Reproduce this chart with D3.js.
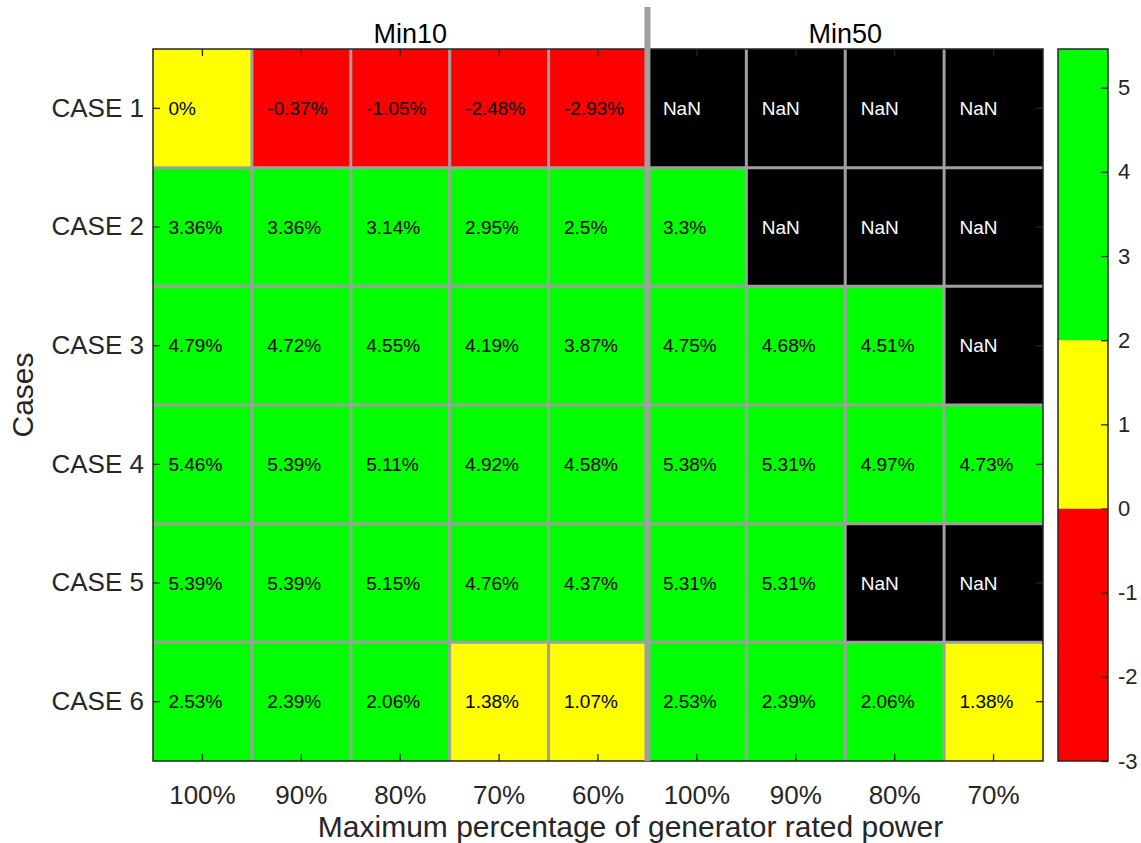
<!DOCTYPE html>
<html>
<head>
<meta charset="utf-8">
<script src="https://cdn.jsdelivr.net/npm/d3@7/dist/d3.min.js"></script>
<style>
  html, body { margin: 0; padding: 0; background: #fff; }
  svg { display: block; font-family: "Liberation Sans", Arial, Helvetica, sans-serif; }
</style>
</head>
<body>
<svg id="chart" width="1141" height="843"></svg>
<script>
// Cases (rows) and generator power limits (columns) for the two groups
const cases = ["CASE 1", "CASE 2", "CASE 3", "CASE 4", "CASE 5", "CASE 6"];
const groups = ["Min10", "Min10", "Min10", "Min10", "Min10", "Min50", "Min50", "Min50", "Min50"];
const columnLabels = ["100%", "90%", "80%", "70%", "60%", "100%", "90%", "80%", "70%"];
const groupNames = ["Min10", "Min50"];

// Improvement per case (%), NaN where no feasible result exists
const case1 = [0, -0.37, -1.05, -2.48, -2.93, NaN, NaN, NaN, NaN];
const case2 = [3.36, 3.36, 3.14, 2.95, 2.5, 3.3, NaN, NaN, NaN];
const case3 = [4.79, 4.72, 4.55, 4.19, 3.87, 4.75, 4.68, 4.51, NaN];
const case4 = [5.46, 5.39, 5.11, 4.92, 4.58, 5.38, 5.31, 4.97, 4.73];
const case5 = [5.39, 5.39, 5.15, 4.76, 4.37, 5.31, 5.31, NaN, NaN];
const case6 = [2.53, 2.39, 2.06, 1.38, 1.07, 2.53, 2.39, 2.06, 1.38];
const values = [case1, case2, case3, case4, case5, case6];

// Colour bands and colorbar ticks
const bandBreaks = [0, 2];
const bandColors = ["#ff0000", "#ffff00", "#00ff00"];
const colorTicks = [-3, -2, -1, 0, 1, 2, 3, 4, 5];
const colorMin = -3;
const colorMax = 5.46;

const svg = d3.select("#chart");
const plot = { left: 153, right: 1043, top: 49, bottom: 761 };
const axisColor = "#262626";
const gridColor = "#a0a0a0";

const cols = d3.range(columnLabels.length);
const x = d3.scaleBand().domain(cols).range([plot.left, plot.right]).padding(0);
const y = d3.scaleBand().domain(cases).range([plot.top, plot.bottom]).padding(0);
const color = d3.scaleThreshold().domain(bandBreaks).range(bandColors);

const cells = [];
values.forEach((row, r) => row.forEach((v, c) => cells.push({ r, c, v })));

const fmt = v => (isNaN(v) ? "NaN" : (+v.toFixed(2)).toString() + "%");

// Heatmap cells
svg.append("g").selectAll("rect").data(cells).join("rect")
  .attr("x", d => x(d.c))
  .attr("y", d => y(cases[d.r]))
  .attr("width", x.bandwidth())
  .attr("height", y.bandwidth())
  .attr("fill", d => (isNaN(d.v) ? "#000000" : color(d.v)));

// Internal grid lines between cells
const grid = svg.append("g").attr("stroke", gridColor).attr("stroke-width", 3);
cols.slice(1).forEach(c => {
  grid.append("line").attr("x1", x(c)).attr("x2", x(c))
    .attr("y1", plot.top).attr("y2", plot.bottom);
});
cases.slice(1).forEach(cs => {
  grid.append("line").attr("x1", plot.left).attr("x2", plot.right)
    .attr("y1", y(cs)).attr("y2", y(cs));
});

// Cell value labels
svg.append("g").selectAll("text").data(cells).join("text")
  .attr("x", d => x(d.c) + x.bandwidth() / 2 - 34)
  .attr("y", d => y(cases[d.r]) + y.bandwidth() / 2)
  .attr("dy", "0.35em")
  .attr("font-size", "19px")
  .attr("fill", d => (isNaN(d.v) ? "#ffffff" : "#000000"))
  .text(d => fmt(d.v));

// Axes (ticks pointing inward on all four sides)
const tickLen = 7;
const bottomAxis = d3.axisBottom(x).tickSize(0).tickPadding(0).tickFormat(i => columnLabels[i]);
const gx = svg.append("g").attr("transform", `translate(0,${plot.bottom})`).call(bottomAxis);
gx.select(".domain").remove();
gx.selectAll("text").attr("font-size", "26px").attr("fill", axisColor).attr("dy", null).attr("y", 43);

const leftAxis = d3.axisLeft(y).tickSize(0).tickPadding(9);
const gy = svg.append("g").attr("transform", `translate(${plot.left},0)`).call(leftAxis);
gy.select(".domain").remove();
gy.selectAll("text").attr("font-size", "26px").attr("fill", axisColor);

const ticks = svg.append("g").attr("stroke", axisColor).attr("stroke-width", 1.3);
cols.forEach(c => {
  const cx = x(c) + x.bandwidth() / 2;
  ticks.append("line").attr("x1", cx).attr("x2", cx).attr("y1", plot.bottom).attr("y2", plot.bottom - tickLen);
  ticks.append("line").attr("x1", cx).attr("x2", cx).attr("y1", plot.top).attr("y2", plot.top + tickLen);
});
cases.forEach(cs => {
  const cy = y(cs) + y.bandwidth() / 2;
  ticks.append("line").attr("x1", plot.left).attr("x2", plot.left + tickLen).attr("y1", cy).attr("y2", cy);
  ticks.append("line").attr("x1", plot.right).attr("x2", plot.right - tickLen).attr("y1", cy).attr("y2", cy);
});

// Axes box
svg.append("rect")
  .attr("x", plot.left).attr("y", plot.top)
  .attr("width", plot.right - plot.left).attr("height", plot.bottom - plot.top)
  .attr("fill", "none").attr("stroke", axisColor).attr("stroke-width", 1.5);

// Thick separator between the two groups
const splitX = x(groups.indexOf("Min50"));
svg.append("line")
  .attr("x1", splitX).attr("x2", splitX)
  .attr("y1", 7).attr("y2", plot.bottom)
  .attr("stroke", gridColor).attr("stroke-width", 6);

// Group titles
const groupCenter = name => {
  const idx = cols.filter(i => groups[i] === name);
  return (x(idx[0]) + x(idx[idx.length - 1]) + x.bandwidth()) / 2;
};
svg.append("g").selectAll("text").data(groupNames).join("text")
  .attr("x", (d, i) => groupCenter(d) + (i === 0 ? 10 : 0))
  .attr("y", 43)
  .attr("text-anchor", "middle")
  .attr("font-size", "27px")
  .attr("fill", "#000000")
  .text(d => d);

// Colorbar geometry
const cb = { left: 1058, right: 1108 };

// Axis titles
svg.append("text")
  .attr("x", (plot.left + cb.right) / 2)
  .attr("y", 836.5)
  .attr("text-anchor", "middle")
  .attr("font-size", "30px")
  .attr("fill", axisColor)
  .text("Maximum percentage of generator rated power");

svg.append("text")
  .attr("transform", `translate(33,${(plot.top + plot.bottom) / 2 - 10}) rotate(-90)`)
  .attr("text-anchor", "middle")
  .attr("font-size", "30px")
  .attr("fill", axisColor)
  .text("Cases");

// Colorbar
const cScale = d3.scaleLinear().domain([colorMin, colorMax]).range([plot.bottom, plot.top]);
const bands = [colorMin, ...bandBreaks, colorMax];
svg.append("g").selectAll("rect").data(d3.range(bands.length - 1)).join("rect")
  .attr("x", cb.left)
  .attr("width", cb.right - cb.left)
  .attr("y", i => cScale(bands[i + 1]))
  .attr("height", i => cScale(bands[i]) - cScale(bands[i + 1]))
  .attr("fill", i => bandColors[i]);

const cAxis = d3.axisRight(cScale).tickValues(colorTicks).tickSize(0).tickPadding(10)
  .tickFormat(d => String(d));
const gc = svg.append("g").attr("transform", `translate(${cb.right},0)`).call(cAxis);
gc.select(".domain").remove();
gc.selectAll("text").attr("font-size", "22px").attr("fill", axisColor);
gc.selectAll(".tick").append("line")
  .attr("x1", 0).attr("x2", -tickLen)
  .attr("stroke", axisColor).attr("stroke-width", 1.3);

svg.append("rect")
  .attr("x", cb.left).attr("y", plot.top)
  .attr("width", cb.right - cb.left).attr("height", plot.bottom - plot.top)
  .attr("fill", "none").attr("stroke", axisColor).attr("stroke-width", 1.5);
</script>
</body>
</html>
